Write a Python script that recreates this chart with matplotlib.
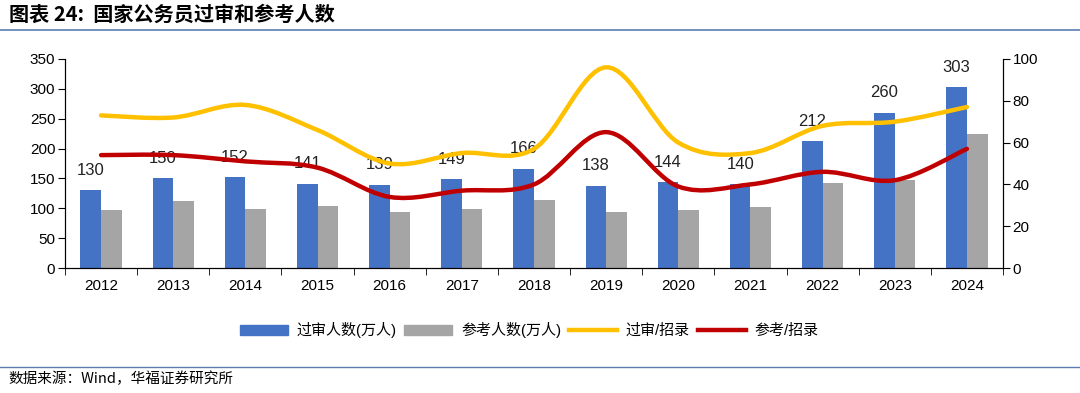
import numpy as np
import matplotlib
matplotlib.use("Agg")
import matplotlib.pyplot as plt
from matplotlib.path import Path
from matplotlib.patches import PathPatch, Patch
from matplotlib.lines import Line2D

plt.rcParams['font.family'] = ['Liberation Sans', 'Noto Sans CJK SC']

# data
years = ["2012", "2013", "2014", "2015", "2016", "2017", "2018",
         "2019", "2020", "2021", "2022", "2023", "2024"]
passed = [130, 150, 152, 141, 139, 149, 166, 138, 144, 140, 212, 260, 303]
sat_exam = [97, 112, 99, 104, 94, 99, 114, 94, 97, 102, 142, 147, 225]
passed_ratio = [73, 72, 78, 66, 50, 55, 57, 96, 60, 55, 68, 70, 77]
exam_ratio = [54, 54, 51, 48, 34, 37, 40, 65, 39, 40, 46, 42, 57]

legend_labels = ["过审人数(万人)", "参考人数(万人)", "过审/招录", "参考/招录"]

BLUE = "#4472C4"
GRAY = "#A5A5A5"
YELLOW = "#FFC000"
RED = "#C00000"
RULE = "#5B7DB1"


def smooth_path(xs, ys):
    """Excel-style smoothed line as cubic Bezier segments."""
    pts = np.column_stack([xs, ys]).astype(float)
    n = len(pts)
    verts = [pts[0]]
    codes = [Path.MOVETO]
    for i in range(n - 1):
        p_prev = pts[max(i - 1, 0)]
        p0 = pts[i]
        p1 = pts[i + 1]
        p_next = pts[min(i + 2, n - 1)]
        c1 = p0 + (p1 - p_prev) / 6
        c2 = p1 - (p_next - p0) / 6
        verts += [c1, c2, p1]
        codes += [Path.CURVE4] * 3
    return Path(verts, codes)


fig = plt.figure(figsize=(10.8, 3.93), dpi=100)
ax = fig.add_axes([0.0602, 0.318, 0.8685, 0.532])
ax2 = ax.twinx()

x = np.arange(len(years))
w = 0.286
b1 = ax.bar(x - w / 2, passed, w, color=BLUE, zorder=2)
ax.bar(x + w / 2, sat_exam, w, color=GRAY, zorder=2)
ax.bar_label(b1, labels=[str(v) for v in passed], padding=9, fontsize=12, color="#222222")

ax.set_xlim(-0.5, len(years) - 0.5)
ax.set_ylim(0, 350)
ax.set_yticks(np.arange(0, 351, 50))
ax.set_xticks(x)
ax.set_xticklabels(years)
ax.set_xticks(np.arange(-0.5, len(years), 1), minor=True)
ax.tick_params(axis='x', which='major', length=0, pad=8, labelsize=11)
ax.tick_params(axis='x', which='minor', length=5, direction='out')
ax.tick_params(axis='y', length=5, direction='out', labelsize=11, pad=2)
ax.spines['top'].set_visible(False)

ax2.set_ylim(0, 100)
ax2.set_yticks(np.arange(0, 101, 20))
ax2.tick_params(axis='y', length=5, direction='out', labelsize=11, pad=2)
ax2.spines['top'].set_visible(False)

for vals, col in [(passed_ratio, YELLOW), (exam_ratio, RED)]:
    ax2.add_patch(PathPatch(smooth_path(x, vals), fill=False, edgecolor=col,
                            lw=3.2, capstyle='round', joinstyle='round'))

handles = [Patch(color=BLUE), Patch(color=GRAY),
           Line2D([], [], color=YELLOW, lw=3.2), Line2D([], [], color=RED, lw=3.2)]
fig.legend(handles, legend_labels, loc='center', bbox_to_anchor=(0.49, 1 - 330 / 393),
           ncol=4, frameon=False, fontsize=10.8, handlelength=3.2, handleheight=0.7,
           columnspacing=0.5, handletextpad=0.6)

# title, rules and source
fig.text(0.008, 1 - 14 / 393, "图表 24:  国家公务员过审和参考人数", fontsize=14.5,
         fontweight='bold', va='center', ha='left', family=['Noto Sans CJK SC'])
fig.add_artist(Line2D([0, 1], [1 - 30 / 393] * 2, color=RULE, lw=1.2))
fig.add_artist(Line2D([0, 1], [1 - 367 / 393] * 2, color=RULE, lw=1.0))
fig.text(0.008, 1 - 379 / 393, "数据来源：Wind，华福证券研究所", fontsize=10.5,
         va='center', ha='left', family=['Noto Sans CJK SC'])

fig.savefig("out.png", dpi=100)
